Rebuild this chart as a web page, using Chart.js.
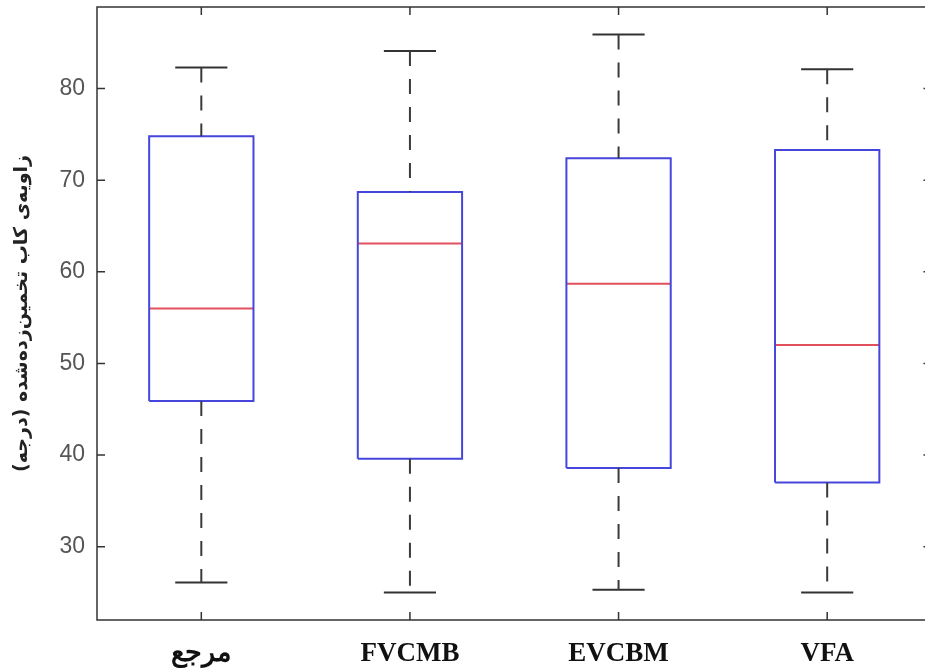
<!DOCTYPE html>
<html>
<head>
<meta charset="utf-8">
<script src="https://cdn.jsdelivr.net/npm/chart.js@4/dist/chart.umd.min.js"></script>
<style>
html, body { margin: 0; padding: 0; background: #fff; overflow: hidden; }
#wrap { width: 940px; height: 670px; }
</style>
</head>
<body>
<div id="wrap"><canvas id="boxChart"></canvas></div>
<script>
const categories = ['مرجع', 'FVCMB', 'EVCBM', 'VFA'];
const whiskerLow = [26.1, 25.0, 25.3, 25.0];
const q1 = [45.9, 39.6, 38.6, 37.0];
const medians = [56.0, 63.1, 58.7, 52.0];
const q3 = [74.8, 68.7, 72.4, 73.3];
const whiskerHigh = [82.3, 84.1, 85.9, 82.1];
const yTicks = [30, 40, 50, 60, 70, 80];
const yTitle = '\u200Fزاویه‌ی کاب تخمین‌زده‌شده (درجه)\u200F';

const boxHalf = 0.25;
const capHalf = 0.125;

// cada caja/linea como una serie con huecos (y: null) entre categorias
const boxData = [];
const medianData = [];
const whiskerData = [];
const capData = [];
categories.forEach((c, i) => {
const x = i + 1;
boxData.push({ x: x - boxHalf, y: q1[i] }, { x: x + boxHalf, y: q1[i] },
    { x: x + boxHalf, y: q3[i] }, { x: x - boxHalf, y: q3[i] },
    { x: x - boxHalf, y: q1[i] }, { x: x, y: null });
medianData.push({ x: x - boxHalf, y: medians[i] }, { x: x + boxHalf, y: medians[i] }, { x: x, y: null });
whiskerData.push({ x: x, y: whiskerHigh[i] }, { x: x, y: q3[i] }, { x: x, y: null },
    { x: x, y: q1[i] }, { x: x, y: whiskerLow[i] }, { x: x, y: null });
capData.push({ x: x - capHalf, y: whiskerHigh[i] }, { x: x + capHalf, y: whiskerHigh[i] }, { x: x, y: null },
    { x: x - capHalf, y: whiskerLow[i] }, { x: x + capHalf, y: whiskerLow[i] }, { x: x, y: null });
});

const lineBase = { type: 'line', pointRadius: 0, fill: false, tension: 0, spanGaps: false };

// marco y marcas hacia dentro, estilo MATLAB
const framePlugin = {
id: 'frame',
afterDatasetsDraw(chart) {
    const { ctx, chartArea: a, scales } = chart;
    ctx.save();
    ctx.strokeStyle = '#333';
    ctx.lineWidth = 1.5;
    ctx.strokeRect(a.left, a.top, a.right - a.left, a.bottom - a.top);
    ctx.beginPath();
    yTicks.forEach(v => {
    const py = scales.y.getPixelForValue(v);
    ctx.moveTo(a.left, py); ctx.lineTo(a.left + 8, py);
    ctx.moveTo(a.right - 8, py); ctx.lineTo(a.right, py);
    });
    categories.forEach((c, i) => {
    const px = scales.x.getPixelForValue(i + 1);
    ctx.moveTo(px, a.bottom); ctx.lineTo(px, a.bottom - 8);
    ctx.moveTo(px, a.top); ctx.lineTo(px, a.top + 8);
    });
    ctx.stroke();
    ctx.restore();
}
};

const noPad = s => { s.paddingTop = 0; s.paddingBottom = 0; s.paddingLeft = 0; s.paddingRight = 0; };

const ctx = document.getElementById('boxChart').getContext('2d');
new Chart(ctx, {
type: 'line',
data: {
    datasets: [
    Object.assign({}, lineBase, { label: 'whiskers', data: whiskerData, borderColor: '#3a3a3a', borderWidth: 2, borderDash: [15, 13] }),
    Object.assign({}, lineBase, { label: 'caps', data: capData, borderColor: '#333', borderWidth: 2 }),
    Object.assign({}, lineBase, { label: 'boxes', data: boxData, borderColor: '#4646dc', borderWidth: 2 }),
    Object.assign({}, lineBase, { label: 'medians', data: medianData, borderColor: '#e2505c', borderWidth: 2 })
    ]
},
options: {
    responsive: true,
    maintainAspectRatio: false,
    animation: false,
    layout: { padding: { top: 7, right: 8.5, left: 0, bottom: 0 } },
    plugins: {
    legend: { display: false },
    tooltip: { enabled: false }
    },
    scales: {
    x: {
        type: 'linear',
        min: 0.5,
        max: 4.5,
        afterBuildTicks: s => { s.ticks = categories.map((c, i) => ({ value: i + 1 })); },
        afterFit: s => { s.height = 50; noPad(s); },
        grid: { display: false },
        border: { display: false },
        ticks: {
        autoSkip: false,
        maxRotation: 0,
        padding: 10,
        color: '#111',
        font: { family: "'Liberation Serif', 'DejaVu Serif', serif", size: 27, weight: 'bold' },
        callback: v => categories[Math.round(v) - 1]
        }
    },
    y: {
        min: 22,
        max: 88.9,
        afterBuildTicks: s => { s.ticks = yTicks.map(v => ({ value: v })); },
        afterFit: s => { s.width = 97; noPad(s); },
        grid: { display: false },
        border: { display: false },
        ticks: {
        padding: 4,
        color: '#555',
        font: { family: "'Liberation Sans', Arial, sans-serif", size: 23 }
        },
        title: {
        display: true,
        text: yTitle,
        color: '#222',
        padding: { top: 11, bottom: 0 },
        font: { family: "'DejaVu Sans', sans-serif", size: 19, weight: 'bold' }
        }
    }
    }
},
plugins: [framePlugin]
});
</script>
</body>
</html>
